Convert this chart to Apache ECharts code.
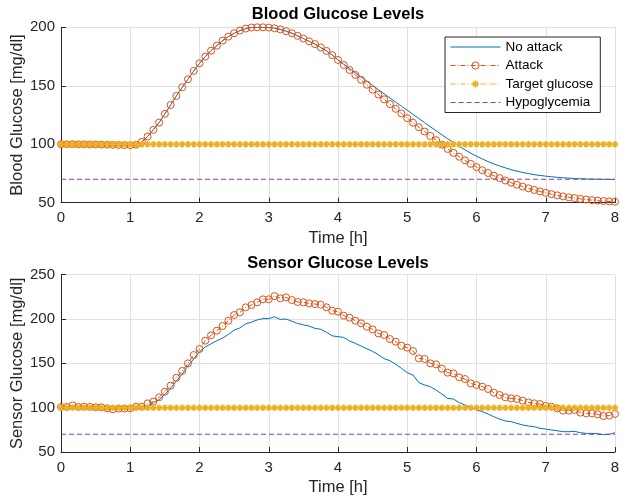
<!DOCTYPE html>
<html>
<head>
<meta charset="utf-8">
<title>Blood / Sensor Glucose Levels</title>
<script src="https://cdn.jsdelivr.net/npm/echarts@6/dist/echarts.min.js"></script>
<style>
  html, body { margin: 0; padding: 0; background: #fff; }
  #main { width: 621px; height: 502px; }
</style>
</head>
<body>
<div id="main"></div>
<script>
// time grid: one sample every 5 min from 0 to 8 h
var stepMin = 5;
var timeH = [];
for (var k = 0; k <= 96; k++) timeH.push(k * stepMin / 60);

var targetLevel = 100;   // target glucose [mg/dl]
var hypoLevel = 70;      // hypoglycemia threshold [mg/dl]

// blood glucose, no attack
var bgNoAttack = [
  100, 100, 100, 99.9, 99.9, 99.8, 99.8, 99.7, 99.6, 99.5, 99.4, 99.3, 99.2,
  99.6, 102, 106.6, 112.3, 118.5, 126, 133.6, 141.3, 148.7, 155.6, 162.7, 169.2, 174.9,
  180, 184.3, 188.6, 192, 194.9, 197.2, 198.9, 199.8, 200, 200, 199.8, 199.2, 198.2,
  196.7, 194.9, 192.7, 190.4, 188, 185.6, 182.8, 179.8, 176.2,
  172.1, 168.4, 164.8, 161.1, 157.5, 153.9, 150.3, 146.7, 143.1, 139.5, 136, 132.5,
  129, 125.5, 122, 118.5, 115, 111.5, 108.1, 104.7, 101.4, 98.2, 95.2, 92.4,
  89.8, 87.4, 85.2, 83.2, 81.4, 79.8, 78.3, 77, 75.9, 74.9, 74, 73.3,
  72.7, 72.2, 71.7, 71.3, 71, 70.7, 70.5, 70.3, 70.2, 70.1, 70, 69.9, 69.9
];
// blood glucose, attack
var bgAttack = [
  100, 100, 100, 99.9, 99.9, 99.8, 99.8, 99.7, 99.6, 99.5, 99.4, 99.3, 99.2,
  99.6, 102, 106.6, 112.3, 118.5, 126, 133.6, 141.3, 148.7, 155.6, 162.7, 169.2, 174.9,
  180, 184.3, 188.6, 192, 194.9, 197.2, 198.9, 199.8, 200, 200, 199.8, 199.2, 198.2,
  196.7, 194.9, 192.7, 190.4, 188, 185.6, 182.8, 179.8, 176.2,
  172.1, 167.8, 163.5, 159.3, 155.1, 150.9, 146.7, 142.5, 138.4, 134.3, 130.3, 126.3,
  122.3, 118.4, 114.6, 110.8, 107.1, 103.5, 99.6, 96, 92.6, 89.3, 86.2, 83.2,
  80.4, 77.8, 75.4, 73.1, 71, 69, 67.1, 65.4, 63.8, 62.3, 60.9, 59.6,
  58.4, 57.3, 56.3, 55.4, 54.6, 53.9, 53.3, 52.7, 52.2, 51.8, 51.4, 51.1, 50.8
];
// sensor glucose, no attack
var sgNoAttack = [
  100.5, 100.2, 100.4, 100, 100.1, 100, 99.9, 99.6, 99.2, 98.9, 99.1, 99.3, 99.6,
  100, 100.5, 102, 105.5, 109, 115, 122, 130, 138, 147, 155, 163, 168.5,
  172, 175.5, 178.5, 182.5, 187.5, 190, 194.5, 196.5, 199, 200.5, 200.5, 202.5, 199.5,
  200, 197.5, 195, 193.5, 192, 189.5, 188.5, 185, 181,
  180.1, 179.3, 175.2, 172.6, 169.5, 166.5, 163.5, 159.8, 155.3, 153, 148.9, 144.4,
  139.5, 136.8, 128.2, 125.6, 123.7, 119.9, 115.4, 110.5, 109.8, 105.6, 103, 100.5,
  97.5, 95.5, 92.9, 89.8, 87.2, 85, 84.2, 82.3, 80.5, 79.3, 78.6, 76.7,
  75.9, 74.8, 74, 72.9, 72.9, 73.3, 71.8, 71, 71, 70.7, 69.5, 69.9, 71.8
];
// sensor glucose, attack
var sgAttack = [
  100.8, 100.8, 102.6, 100.8, 101.1, 100.8, 100.4, 100.4, 99.2, 98.1, 98.9, 98.9, 99.2,
  101.1, 101.1, 104.9, 106.8, 111.7, 118, 124.8, 133.8, 141.4, 150, 159.4, 166.2, 175.6,
  181.6, 186.8, 192.1, 198.1, 204.5, 207.5, 213.2, 215.8, 218.8, 222.2, 222.2, 225.9, 223.3,
  224.4, 221.4, 219.2, 218.8, 217.7, 216.9, 216.2, 213.2, 209.4,
  208.3, 203.8, 201.5, 198.1, 195.1, 191.4, 188.3, 183.8, 182, 177.4, 174.4, 169.9,
  167.7, 163.9, 155.6, 154.9, 150, 148.9, 144, 139.5, 138.7, 134.2, 132.3, 127.4,
  125.6, 123.7, 121.1, 116.9, 114.3, 111.7, 110.5, 109.8, 107.9, 106, 104.9, 104.1,
  101.9, 101.1, 99.2, 96.6, 96.6, 97.4, 94.4, 93.6, 93.6, 92.5, 90.6, 91, 92.9
];

var FONT = '"Liberation Sans", Arial, Helvetica, sans-serif';
var INK = '#262626';
var C_BLUE = '#0072BD', C_RED = '#D95319', C_YEL = '#EDB120', C_PUR = '#8E3FA0';
var STAR = 'path://M5 0V10M0 5H10M1.6 1.6L8.4 8.4M1.6 8.4L8.4 1.6';

function pairs(vals) {
  return timeH.map(function (t, i) { return [t, vals[i]]; });
}
function level(v) {
  return timeH.map(function (t) { return [t, v]; });
}

function xAx(idx) {
  return {
    gridIndex: idx, type: 'value', min: 0, max: 8, interval: 1,
    name: 'Time [h]', nameLocation: 'middle', nameGap: 27, nameMoveOverlap: false,
    nameTextStyle: { fontSize: 16.5, color: INK, fontFamily: FONT },
    axisLine: { show: true, onZero: false, lineStyle: { color: INK, width: 1 } },
    axisTick: { show: true, inside: true, length: 5, lineStyle: { color: INK } },
    axisLabel: { fontSize: 15, color: INK, fontFamily: FONT, margin: 8 },
    splitLine: { show: true, lineStyle: { color: '#e0e0e0', width: 1 } }
  };
}
function yAx(idx, name, max) {
  return {
    gridIndex: idx, type: 'value', min: 50, max: max, interval: 50,
    name: name, nameLocation: 'middle', nameGap: 35, nameMoveOverlap: false,
    nameTextStyle: { fontSize: 16.5, color: INK, fontFamily: FONT },
    axisLine: { show: true, lineStyle: { color: INK, width: 1 } },
    axisTick: { show: true, inside: true, length: 5, lineStyle: { color: INK } },
    axisLabel: { fontSize: 15, color: INK, fontFamily: FONT, margin: 6 },
    splitLine: { show: true, lineStyle: { color: '#e0e0e0', width: 1 } }
  };
}

function seriesFor(idx, noAttack, attack) {
  return [
    {
      name: 'No attack', type: 'line', xAxisIndex: idx, yAxisIndex: idx,
      data: pairs(noAttack), symbol: 'none',
      lineStyle: { color: C_BLUE, width: 1 }, itemStyle: { color: C_BLUE }
    },
    {
      name: 'Attack', type: 'line', xAxisIndex: idx, yAxisIndex: idx,
      data: pairs(attack), symbol: 'circle', symbolSize: 7, clip: false,
      lineStyle: { color: C_RED, width: 1, type: [5, 2, 1, 2] },
      itemStyle: { color: 'transparent', borderColor: C_RED, borderWidth: 1 }
    },
    {
      name: 'Target glucose', type: 'line', xAxisIndex: idx, yAxisIndex: idx,
      data: level(targetLevel), symbol: STAR, symbolSize: 6.5,
      lineStyle: { color: C_YEL, width: 1, type: [5, 2, 1, 2] },
      itemStyle: { color: C_YEL, borderColor: C_YEL, borderWidth: 1.6 }
    },
    {
      name: 'Hypoglycemia', type: 'line', xAxisIndex: idx, yAxisIndex: idx,
      data: level(hypoLevel), symbol: 'none',
      lineStyle: { color: C_PUR, width: 1.1, type: [5, 3] }, itemStyle: { color: C_PUR }
    }
  ];
}

var chart = echarts.init(document.getElementById('main'), null, { renderer: 'canvas' });

var option = {
  animation: false,
  backgroundColor: '#fff',
  title: [
    { text: 'Blood Glucose Levels', left: 338, top: 6, textAlign: 'center', padding: 0,
      textStyle: { fontSize: 16.5, fontWeight: 'bold', color: '#000', fontFamily: FONT } },
    { text: 'Sensor Glucose Levels', left: 338, top: 255, textAlign: 'center', padding: 0,
      textStyle: { fontSize: 16.5, fontWeight: 'bold', color: '#000', fontFamily: FONT } }
  ],
  legend: {
    data: [
      { name: 'No attack', itemStyle: { color: 'transparent', borderWidth: 0 } },
      { name: 'Attack', itemStyle: { color: 'transparent', borderColor: C_RED, borderWidth: 1 } },
      { name: 'Target glucose', itemStyle: { color: C_YEL, borderColor: C_YEL, borderWidth: 1.6 } },
      { name: 'Hypoglycemia', itemStyle: { color: 'transparent', borderWidth: 0 } }
    ],
    orient: 'vertical', left: 445, top: 37,
    backgroundColor: '#fff', borderColor: INK, borderWidth: 1, borderRadius: 0,
    padding: [3, 7, 3, 5],
    itemWidth: 50, itemHeight: 9, itemGap: 4.5,
    lineStyle: { width: 1 },
    textStyle: { fontSize: 13.5, color: '#000', fontFamily: FONT },
    z: 10
  },
  grid: [
    { left: 61, right: 6, top: 27.3, height: 175.4, outerBoundsMode: 'none' },
    { left: 61, right: 6, top: 274.7, height: 177.3, outerBoundsMode: 'none' }
  ],
  xAxis: [xAx(0), xAx(1)],
  yAxis: [yAx(0, 'Blood Glucose [mg/dl]', 200), yAx(1, 'Sensor Glucose [mg/dl]', 250)],
  series: seriesFor(0, bgNoAttack, bgAttack).concat(seriesFor(1, sgNoAttack, sgAttack))
};

chart.setOption(option);
</script>
</body>
</html>
